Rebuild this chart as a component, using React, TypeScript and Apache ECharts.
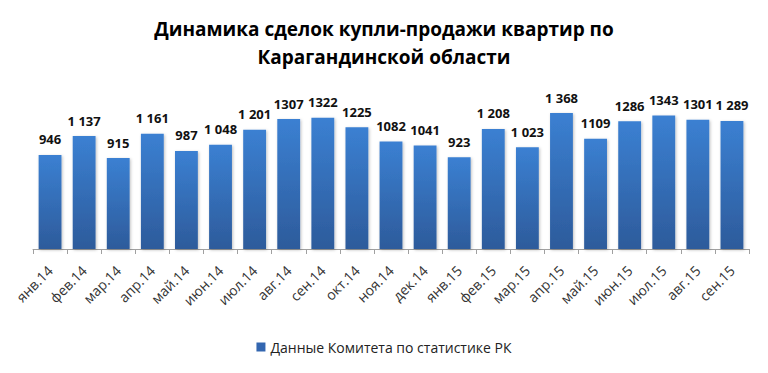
import React, { useEffect, useRef } from "react";
import * as echarts from "echarts";

const categories = [
  "янв.14", "фев.14", "мар.14", "апр.14", "май.14", "июн.14", "июл.14", "авг.14", "сен.14", "окт.14", "ноя.14",
  "дек.14", "янв.15", "фев.15", "мар.15", "апр.15", "май.15", "июн.15", "июл.15", "авг.15", "сен.15",
];
const values = [946, 1137, 915, 1161, 987, 1048, 1201, 1307, 1322, 1225, 1082, 1041, 923, 1208, 1023, 1368, 1109, 1286, 1343, 1301, 1289];
const valueLabels = [
  "946", "1 137", "915", "1 161", "987", "1 048", "1 201", "1307", "1322", "1225", "1082",
  "1041", "923", "1 208", "1 023", "1 368", "1109", "1286", "1343", "1301", "1 289",
];
const seriesName = "Данные Комитета по статистике РК";
const titleText = "Динамика сделок купли-продажи квартир по\nКарагандинской области";

export default function App() {
  const ref = useRef<HTMLDivElement>(null);
  useEffect(() => {
    const chart = echarts.init(ref.current!, null, { renderer: "svg" });
    const grad = new echarts.graphic.LinearGradient(0, 0, 0, 1, [
      { offset: 0, color: "#3b80d2" },
      { offset: 1, color: "#2d5b9b" },
    ]);
    chart.setOption({
      animation: false,
      backgroundColor: "#ffffff",
      title: {
        text: titleText,
        left: "center",
        top: 2,
        textStyle: {
          fontFamily: "Open Sans",
          fontWeight: "bold",
          fontSize: 19,
          lineHeight: 28,
          color: "#000",
        },
      },
      legend: {
        bottom: 6,
        left: "center",
        itemWidth: 9,
        itemHeight: 9,
        icon: "rect",
        itemGap: 4,
        textStyle: { fontFamily: "Open Sans", fontSize: 14, color: "#222" },
        data: [{ name: seriesName, itemStyle: { color: "#3366b0" } }],
      },
      grid: { left: 25, right: 11, top: 82, bottom: 116, containLabel: false },
      xAxis: {
        type: "category",
        data: categories,
        axisLine: { lineStyle: { color: "#a0a0a0" } },
        axisTick: { show: true, alignWithLabel: false, length: 5, lineStyle: { color: "#a0a0a0" } },
        axisLabel: {
          rotate: 45,
          interval: 0,
          fontFamily: "Open Sans",
          fontSize: 14,
          color: "#333",
          margin: 19,
        },
      },
      yAxis: {
        type: "value",
        min: 0,
        max: 1600,
        interval: 400,
        show: false,
        splitLine: { show: false },
      },
      series: [
        {
          name: seriesName,
          type: "bar",
          data: values,
          barCategoryGap: "33%",
          itemStyle: {
            color: grad,
            shadowColor: "rgba(0,0,0,0.25)",
            shadowBlur: 3,
            shadowOffsetX: 1,
            shadowOffsetY: 1,
          },
          label: {
            show: true,
            position: "top",
            distance: 9,
            fontFamily: "Open Sans",
            fontWeight: "bold",
            fontSize: 13,
            color: "#111",
            formatter: (p: any) => valueLabels[p.dataIndex],
          },
        },
      ],
    });
    return () => chart.dispose();
  }, []);
  return <div ref={ref} style={{ width: 752, height: 357 }} />;
}
